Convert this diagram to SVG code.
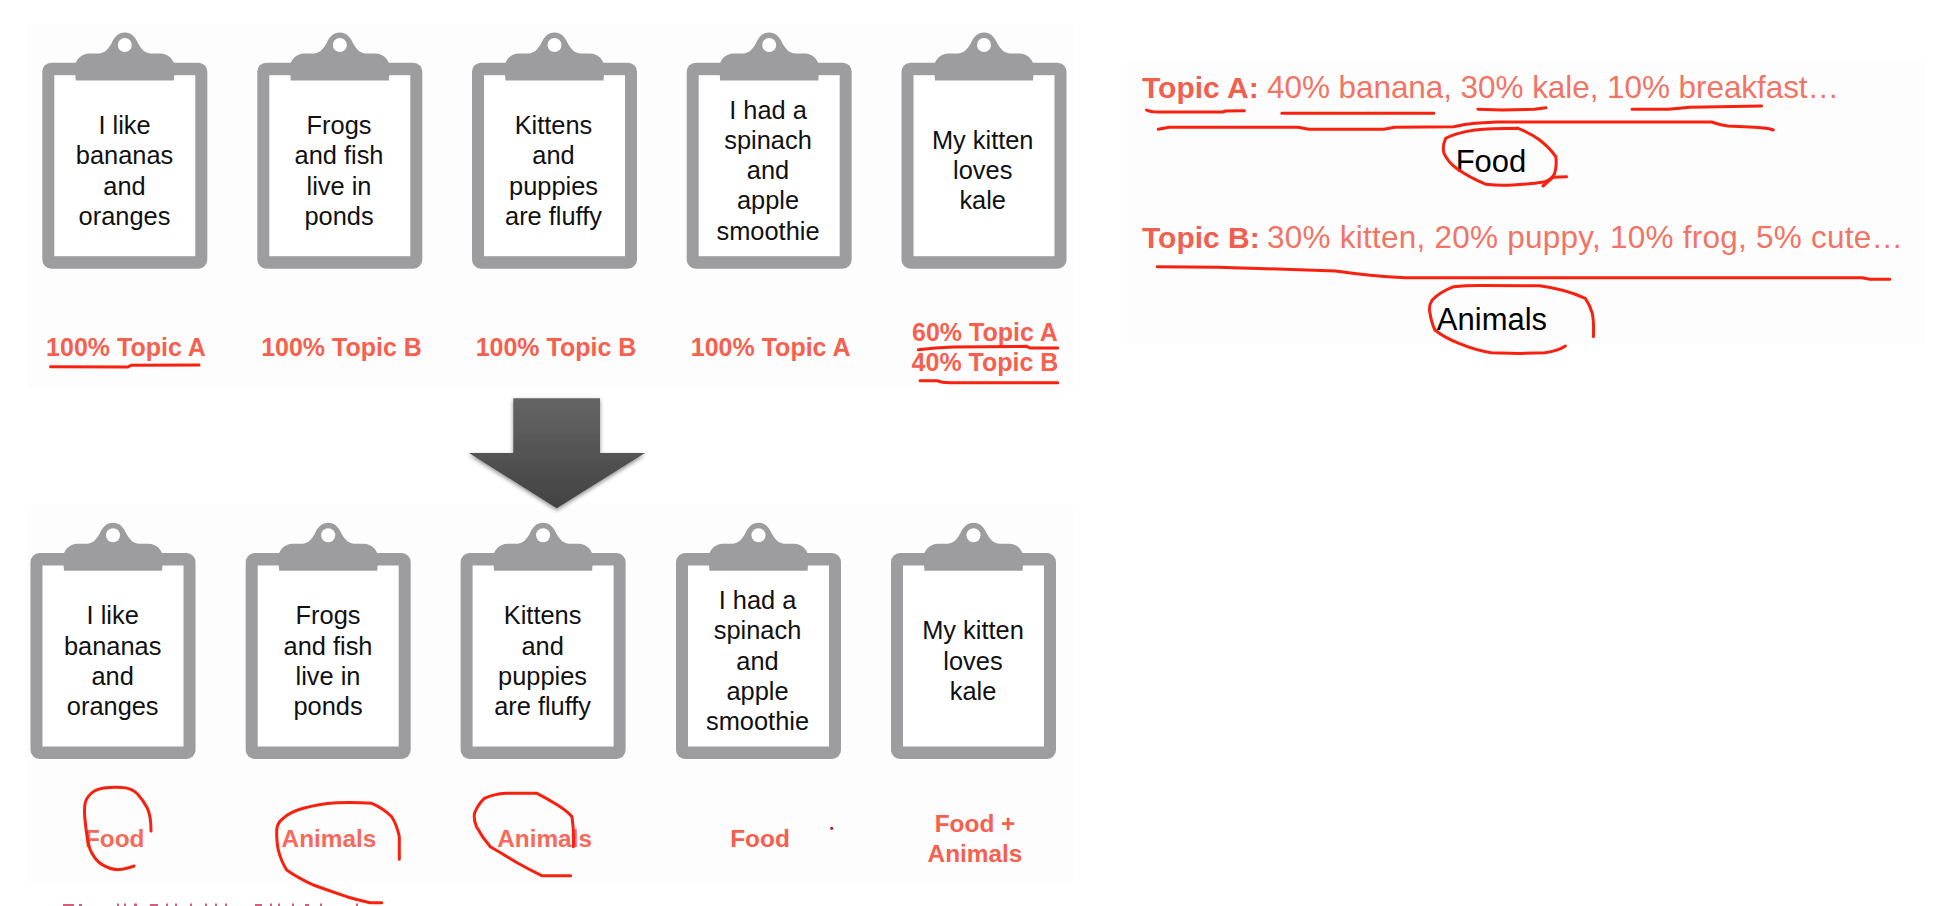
<svg xmlns="http://www.w3.org/2000/svg" width="1952" height="906" viewBox="0 0 1952 906">
<style>
text{font-family:"Liberation Sans",Arial,sans-serif}
.doc{font-size:25.4px;fill:#111;text-anchor:middle}
.lab{font-size:25px;font-weight:700;fill:#f85f4e;text-anchor:middle}
.cat{font-size:24.4px;font-weight:700;fill:#f85f4e;text-anchor:middle}
.lab2{font-size:24.4px;font-weight:700;fill:#f66a5c;text-anchor:middle}
.top{font-size:31.5px;fill:#f27465}
.bold{font-size:30px;font-weight:700;fill:#f0604f}
.blk{font-size:31px;fill:#000;text-anchor:middle}
.ink{fill:none;stroke:#f8200e;stroke-width:3;stroke-linecap:round;stroke-linejoin:round}
.cut{fill:#d75c7c}
</style>
<defs>
<g id="board">
<rect x="0" y="0" width="165" height="206" rx="9" fill="#9d9c9e"/>
<rect x="12" y="12.5" width="141" height="181" fill="#fff"/>
<path fill="#9d9c9e" d="M33.5,17.7 L32.5,6 C32.5,-3 39,-9.3 47,-9.3 L57,-9.3 C63,-10 66,-14 69,-19 C72,-26 76,-30.3 82.5,-30.3 C89,-30.3 93,-26 96,-19 C99,-14 102,-10 108,-9.3 L118,-9.3 C126,-9.3 132.5,-3 132.5,6 L131.5,17.7 Z"/>
<circle cx="82.5" cy="-17.7" r="7" fill="#fff"/>
</g>
<linearGradient id="arrowFill" x1="0" y1="0" x2="0" y2="1">
<stop offset="0" stop-color="#656565"/><stop offset="1" stop-color="#424242"/>
</linearGradient>
<filter id="soft" x="-15%" y="-15%" width="130%" height="130%"><feDropShadow dx="0" dy="2" stdDeviation="2.2" flood-color="#000" flood-opacity="0.45"/></filter>
</defs>
<rect width="1952" height="906" fill="#fff"/>
<rect x="27" y="23" width="1048" height="365" fill="#fdfdfd"/>
<rect x="27" y="505" width="1048" height="377" fill="#fdfdfd"/>
<rect x="1126" y="62" width="799" height="283" fill="#fdfdfd"/>

<g id="doc-top-1"><use href="#board" transform="translate(42.3 62.7)"/>
<text class="doc" x="124.5" y="133.8">I like</text><text class="doc" x="124.5" y="164">bananas</text><text class="doc" x="124.5" y="194.7">and</text><text class="doc" x="124.5" y="224.7">oranges</text>
<text class="lab" x="126" y="356">100% Topic A</text></g>
<g id="doc-top-2"><use href="#board" transform="translate(257.3 62.7)"/>
<text class="doc" x="339" y="133.8">Frogs</text><text class="doc" x="339" y="164">and fish</text><text class="doc" x="339" y="194.7">live in</text><text class="doc" x="339" y="224.7">ponds</text>
<text class="lab" x="341.5" y="356">100% Topic B</text></g>
<g id="doc-top-3"><use href="#board" transform="translate(472 62.7)"/>
<text class="doc" x="553.5" y="133.8">Kittens</text><text class="doc" x="553.5" y="164">and</text><text class="doc" x="553.5" y="194.7">puppies</text><text class="doc" x="553.5" y="224.7">are fluffy</text>
<text class="lab" x="556" y="356">100% Topic B</text></g>
<g id="doc-top-4"><use href="#board" transform="translate(686.7 62.7)"/>
<text class="doc" x="768" y="118.7">I had a</text><text class="doc" x="768" y="148.7">spinach</text><text class="doc" x="768" y="179">and</text><text class="doc" x="768" y="209">apple</text><text class="doc" x="768" y="239.5">smoothie</text>
<text class="lab" x="770.7" y="356">100% Topic A</text></g>
<g id="doc-top-5"><use href="#board" transform="translate(901.5 62.7)"/>
<text class="doc" x="982.7" y="148.7">My kitten</text><text class="doc" x="982.7" y="179">loves</text><text class="doc" x="982.7" y="209">kale</text>
<text class="lab" x="985" y="340.5">60% Topic A</text><text class="lab" x="985" y="371">40% Topic B</text></g>

<g id="arrow"><polygon points="513.3,398.3 600,398.3 600,453 645,453 556.7,508.3 469,453 513.3,453" fill="url(#arrowFill)" filter="url(#soft)"/></g>

<g id="doc-bottom-1"><use href="#board" transform="translate(30.5 553)"/>
<text class="doc" x="112.7" y="624">I like</text><text class="doc" x="112.7" y="654.7">bananas</text><text class="doc" x="112.7" y="684.7">and</text><text class="doc" x="112.7" y="714.7">oranges</text>
<text class="lab2" x="114.7" y="847">Food</text></g>
<g id="doc-bottom-2"><use href="#board" transform="translate(245.7 553)"/>
<text class="doc" x="328" y="624">Frogs</text><text class="doc" x="328" y="654.7">and fish</text><text class="doc" x="328" y="684.7">live in</text><text class="doc" x="328" y="714.7">ponds</text>
<text class="lab2" x="329" y="847">Animals</text></g>
<g id="doc-bottom-3"><use href="#board" transform="translate(460.6 553)"/>
<text class="doc" x="542.6" y="624">Kittens</text><text class="doc" x="542.6" y="654.7">and</text><text class="doc" x="542.6" y="684.7">puppies</text><text class="doc" x="542.6" y="714.7">are fluffy</text>
<text class="lab2" x="544.6" y="847">Animals</text></g>
<g id="doc-bottom-4"><use href="#board" transform="translate(676 553)"/>
<text class="doc" x="757.5" y="608.7">I had a</text><text class="doc" x="757.5" y="638.7">spinach</text><text class="doc" x="757.5" y="669.5">and</text><text class="doc" x="757.5" y="699.5">apple</text><text class="doc" x="757.5" y="729.7">smoothie</text>
<text class="cat" x="760" y="847">Food</text></g>
<g id="doc-bottom-5"><use href="#board" transform="translate(891 553)"/>
<text class="doc" x="973" y="638.7">My kitten</text><text class="doc" x="973" y="669.5">loves</text><text class="doc" x="973" y="699.5">kale</text>
<text class="cat" x="975" y="831.5">Food +</text><text class="cat" x="975" y="862">Animals</text></g>

<g id="topics">
<text class="bold" x="1142" y="97.8">Topic A:</text>
<text class="top" x="1267" y="97.8" textLength="572">40% banana, 30% kale, 10% breakfast…</text>
<text class="blk" x="1491" y="172.4">Food</text>
<text class="bold" x="1142" y="247.5">Topic B:</text>
<text class="top" x="1267" y="247.5" textLength="636">30% kitten, 20% puppy, 10% frog, 5% cute…</text>
<text class="blk" x="1492" y="330">Animals</text>
</g>

<g id="cut-off-line" class="cut">
<rect x="63" y="904" width="11" height="2"/><rect x="79" y="904" width="3" height="2"/><rect x="117" y="903.5" width="2" height="2.5"/><rect x="124" y="903.5" width="2" height="2.5"/><rect x="134" y="903.5" width="3" height="2.5"/><rect x="150" y="904" width="8" height="2"/><rect x="166" y="903.5" width="2" height="2.5"/><rect x="175" y="903.5" width="2" height="2.5"/><rect x="190" y="903.5" width="2" height="2.5"/><rect x="205" y="903.5" width="2" height="2.5"/><rect x="215" y="903.5" width="2" height="2.5"/><rect x="225" y="903.5" width="2" height="2.5"/><rect x="255" y="904" width="7" height="2"/><rect x="270" y="903.5" width="2" height="2.5"/><rect x="278" y="903.5" width="2" height="2.5"/><rect x="292" y="903.5" width="2" height="2.5"/><rect x="305" y="904" width="4" height="2"/><rect x="320" y="903.5" width="2" height="2.5"/><rect x="356" y="903.5" width="2" height="2.5"/>
</g>

<g id="connectors">
<path class="ink" d="M50.6,366.7 L128,367 L131,365.3 L199,365"/>
<path class="ink" d="M918.3,349.7 Q935,347.5 953.3,347 L1026.7,346.3 L1030,348 L1057.7,348"/>
<path class="ink" d="M920,380.7 L936.7,380.7 Q942,382.8 950,382.8 L1057.7,382.8"/>
<circle cx="831.7" cy="828.3" r="1.6" fill="#e0101a"/>
<path class="ink" d="M1146.5,110 Q1150,112 1158.3,112 L1222.8,112 L1225.5,111 L1244.3,110.7"/>
<path class="ink" d="M1281.9,113.3 L1433.8,113.3"/>
<path class="ink" d="M1477.9,109.3 L1502,110 L1534.3,109.3 L1546,107.7"/>
<path class="ink" d="M1632,109.3 L1668.5,109.3 L1690,107.3 L1761.5,106"/>
<path class="ink" d="M1158.3,129.3 L1169,127.3 L1298,127.3 L1308.7,129.3 L1383.9,129.3 L1394.6,127.3 L1453.7,126.7 Q1465,124 1475.2,123.3 L1496.7,122 L1711.5,122 Q1720,125 1727.6,126 L1754.5,127.3 Q1768,128 1773.3,130"/>
<path class="ink" d="M1518,128.3 Q1490,128.5 1475,130 Q1455,133 1445.7,138.3 Q1442,146 1444,153.3 Q1448,162 1456.4,168.3 Q1470,178 1486,184.3 Q1500,186 1512.8,185 Q1530,184 1545,181.7 Q1552,179 1554.7,173.3 Q1557,165 1555.8,156.7 Q1550,148 1539.6,140 Q1530,133 1518,128.3"/>
<path class="ink" d="M1542.9,186 L1553,177.3 L1566.5,176.7"/>
<path class="ink" d="M1157.3,266.7 L1217.4,267.3 L1265.7,268.7 L1335.6,271 Q1370,276 1405.4,277.7 L1861.9,277.7 L1870,279.3 L1889.8,279.3"/>
<path class="ink" d="M1593.4,336.7 Q1594,322 1592.3,313.3 Q1590,305 1585.3,298.3 Q1565,289 1539.6,285.7 L1480,285.5 Q1465,285.5 1453.7,286.7 Q1440,292 1432.2,300 Q1429,305 1429.5,310 Q1431,322 1434.9,330 Q1445,338 1459,343.3 Q1475,350 1491.3,352.7 L1520,353.5 L1545,352.7 Q1558,351 1565.4,346"/>
<path class="ink" d="M151,831 Q151,815 147,807.5 Q143,800 137.5,794 Q131.7,788 122.5,787.5 Q113,786.7 104,788 Q95,789.3 90.5,794 Q86,798.3 85,804 Q84,810 85,820 Q86,830 87.6,840 Q89.3,850 94,856.6 Q98.3,863.3 106,866.6 Q113.3,870 119,869.6 Q125,869.3 134,866"/>
<path class="ink" d="M399.3,859.3 L399.3,836.7 Q397,825 391.7,816.7 Q383,808 371.7,803.3 Q355,802 336.7,802.7 Q318,804 303.3,808.3 Q290,812 283.3,818.3 Q277,823 276.7,830 Q276.5,842 278.3,850 Q281,861 286.7,870 Q298,878 313.3,885 Q330,891 346.7,896.7 Q358,900 370,902.7 L381.7,902.7"/>
<path class="ink" d="M570.6,875.7 L541.7,875.7 Q530,870 518,863.3 Q503,854 490.3,846.7 Q482,837 476.5,826.7 Q473.5,820 474.5,813.3 Q478,804 484.4,798.3 Q494,794 506,793.3 L537,793.3 Q548,799 557.5,805 Q567,811 572,816.7 Q574,830 573.4,846.7"/>
</g>
</svg>
